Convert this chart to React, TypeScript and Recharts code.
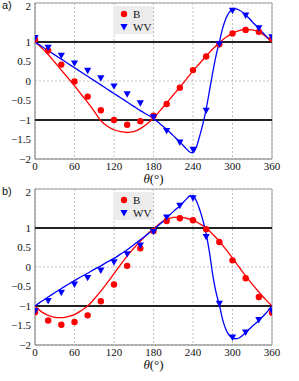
import React from 'react';
import { ComposedChart, Line, Scatter, XAxis, YAxis, CartesianGrid, ReferenceLine } from 'recharts';

const pointTheta = [0, 20, 40, 60, 80, 100, 120, 140, 160, 180, 200, 220, 240, 260, 280, 300, 320, 340, 360];
const aPointsB = [1.07, 0.78, 0.42, -0.01, -0.4, -0.75, -1.0, -1.12, -1.03, -0.89, -0.59, -0.17, 0.28, 0.63, 0.94, 1.22, 1.31, 1.26, 1.08];
const aPointsWV = [1.1, 0.85, 0.65, 0.45, 0.26, 0.07, -0.14, -0.34, -0.57, -0.93, -1.28, -1.58, -1.76, -0.76, 0.94, 1.8, 1.68, 1.35, 1.12];
const bPointsB = [-1.16, -1.37, -1.48, -1.41, -1.24, -0.88, -0.45, 0.03, 0.48, 0.92, 1.18, 1.25, 1.2, 0.97, 0.64, 0.17, -0.29, -0.77, -1.17];
const bPointsWV = [-1.13, -0.87, -0.66, -0.45, -0.28, -0.09, 0.12, 0.33, 0.55, 0.9, 1.27, 1.57, 1.76, 0.77, -0.94, -1.81, -1.68, -1.36, -1.13];

const redFitTheta = [0, 10, 20, 30, 40, 50, 60, 70, 80, 90, 100, 110, 120, 130, 140, 150, 160, 170, 180, 190, 200, 210, 220, 230, 240, 250, 260, 270, 280, 290, 300, 310, 320, 330, 340, 350, 360];
const aFitB = [1.0, 0.85, 0.68, 0.48, 0.28, 0.08, -0.12, -0.34, -0.55, -0.78, -1.02, -1.16, -1.25, -1.3, -1.32, -1.3, -1.22, -1.1, -0.95, -0.76, -0.56, -0.36, -0.16, 0.05, 0.26, 0.45, 0.64, 0.82, 0.98, 1.12, 1.22, 1.29, 1.32, 1.31, 1.26, 1.15, 1.0];
const bFitB = [-1.0, -1.15, -1.24, -1.29, -1.3, -1.27, -1.22, -1.12, -1.0, -0.82, -0.62, -0.4, -0.17, 0.06, 0.28, 0.48, 0.66, 0.83, 0.98, 1.12, 1.22, 1.27, 1.28, 1.25, 1.2, 1.11, 1.0, 0.84, 0.66, 0.45, 0.23, 0.0, -0.23, -0.44, -0.64, -0.83, -1.0];

const blueFitTheta = [0, 10, 20, 30, 40, 50, 60, 70, 80, 90, 100, 110, 120, 130, 140, 150, 160, 170, 180, 190, 200, 210, 220,
  230, 235, 240, 245, 250, 255, 260, 265, 270, 275, 280, 285, 290, 295, 300, 305, 310,
  320, 330, 340, 350, 360];
const aFitWV = [1.0, 0.89, 0.78, 0.67, 0.56, 0.45, 0.34, 0.23, 0.12, 0.01, -0.1, -0.21, -0.32, -0.43, -0.54, -0.65, -0.76, -0.86, -0.96, -1.1, -1.24, -1.4, -1.56,
  -1.74, -1.82, -1.84, -1.7, -1.42, -1.1, -0.72, -0.25, 0.22, 0.65, 1.0, 1.35, 1.6, 1.76, 1.83, 1.85, 1.82,
  1.7, 1.52, 1.35, 1.17, 1.0];
const bFitWV = [-1.0, -0.88, -0.77, -0.66, -0.55, -0.45, -0.35, -0.25, -0.16, -0.06, 0.03, 0.13, 0.22, 0.33, 0.44, 0.57, 0.7, 0.83, 0.96, 1.1, 1.26, 1.42, 1.57,
  1.74, 1.82, 1.82, 1.7, 1.48, 1.2, 0.85, 0.38, -0.2, -0.65, -0.97, -1.35, -1.6, -1.75, -1.81, -1.84, -1.82,
  -1.68, -1.52, -1.37, -1.2, -1.0];

const xTicks = [0, 60, 120, 180, 240, 300, 360];
const yTicks = [-2, -1.5, -1, -0.5, 0, 0.5, 1, 1.5, 2];

const zip = (xs: number[], ys: number[]) => xs.map((x, i) => ({ x, y: ys[i] }));

const RED = '#ff0000';
const BLUE = '#0000ff';
const serif = '"Liberation Serif", "DejaVu Serif", serif';

const Dot = (p: any) => <circle cx={p.cx} cy={p.cy} r={3.2} fill={RED} />;
const Tri = (p: any) => (
  <polygon points={`${p.cx - 3.6},${p.cy - 3} ${p.cx + 3.6},${p.cy - 3} ${p.cx},${p.cy + 3.4}`} fill={BLUE} />
);

const ThetaLabel = (props: any) => {
  const vb = props.viewBox || {};
  return (
    <text x={vb.x + vb.width / 2} y={vb.y + 24} textAnchor="middle" fontFamily={serif} fontSize={13} fill="#111">
      <tspan fontStyle="italic">θ</tspan>(°)
    </text>
  );
};

const Legend = ({ top }: { top: number }) => (
  <div style={{ position: 'absolute', left: 113, top, width: 40, height: 28, background: '#ececec' }}>
    <svg width={40} height={28} style={{ position: 'absolute', left: 0, top: 0 }}>
      <circle cx={11} cy={8} r={3.2} fill={RED} />
      <polygon points="7.4,18 14.6,18 11,24.4" fill={BLUE} />
      <text x={20} y={12} fontFamily={serif} fontSize={11} fill="#111">B</text>
      <text x={20} y={25} fontFamily={serif} fontSize={11} fill="#111">WV</text>
    </svg>
  </div>
);

type PanelProps = {
  top: number; height: number; axisHeight: number; tag: string;
  pB: number[]; pWV: number[]; fB: number[]; fWV: number[];
};

const Panel = ({ top, height, axisHeight, tag, pB, pWV, fB, fWV }: PanelProps) => (
  <div style={{ position: 'absolute', left: 0, top, width: 299, height }}>
    <ComposedChart width={299} height={height} margin={{ top: 3, right: 27, bottom: 0, left: 0 }}>
      <CartesianGrid stroke="#b0b0b0" strokeDasharray="2 2" strokeWidth={0.8} />
      <XAxis
        type="number" dataKey="x" domain={[0, 360]} ticks={xTicks} height={axisHeight}
        tickLine={false} axisLine={false} tickSize={0} tickMargin={3}
        tick={{ fontFamily: serif, fontSize: 11, fill: '#111' }}
        label={{ content: ThetaLabel }}
        allowDataOverflow
      />
      <YAxis
        type="number" dataKey="y" domain={[-2, 2]} ticks={yTicks} width={35}
        tickLine={false} axisLine={false} tickSize={0} tickMargin={4}
        tick={{ fontFamily: serif, fontSize: 11, fill: '#111' }}
        tickFormatter={(v: number) => String(v).replace('-', '\u2212')}
        allowDataOverflow
      />
      <ReferenceLine y={2} stroke="#a0a0a0" strokeWidth={1} />
      <ReferenceLine x={360} stroke="#a0a0a0" strokeWidth={1} />
      <ReferenceLine y={-2} stroke="#777" strokeWidth={1} />
      <ReferenceLine x={0} stroke="#777" strokeWidth={1} />
      <ReferenceLine y={1} stroke="#222" strokeWidth={2} />
      <ReferenceLine y={-1} stroke="#222" strokeWidth={2} />
      <Line data={zip(redFitTheta, fB)} dataKey="y" type="monotone" stroke={RED} strokeWidth={1.3} dot={false} isAnimationActive={false} />
      <Line data={zip(blueFitTheta, fWV)} dataKey="y" type="monotone" stroke={BLUE} strokeWidth={1.3} dot={false} isAnimationActive={false} />
      <Scatter data={zip(pointTheta, pB)} dataKey="y" shape={Dot} isAnimationActive={false} />
      <Scatter data={zip(pointTheta, pWV)} dataKey="y" shape={Tri} isAnimationActive={false} />
    </ComposedChart>
    <div style={{ position: 'absolute', left: 2, top: -1, lineHeight: '12px', fontFamily: '"Liberation Sans", Arial, sans-serif', fontSize: 11, color: '#111' }}>{tag}</div>
    <Legend top={6} />
  </div>
);

export default function App() {
  return (
    <div style={{ position: 'absolute', left: 0, top: 0, width: 299, height: 381, background: '#fff', overflow: 'hidden' }}>
      <Panel top={0} height={190} axisHeight={31} tag="a)" pB={aPointsB} pWV={aPointsWV} fB={aFitB} fWV={aFitWV} />
      <Panel top={186} height={195} axisHeight={36} tag="b)" pB={bPointsB} pWV={bPointsWV} fB={bFitB} fWV={bFitWV} />
    </div>
  );
}
